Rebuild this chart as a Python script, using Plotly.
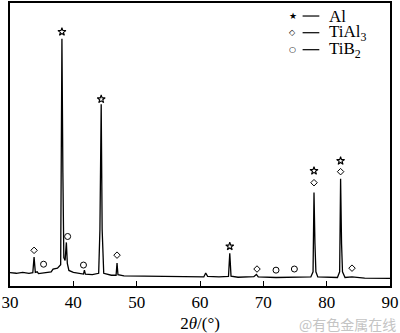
import plotly.graph_objects as go

# XRD profile (2theta in degrees, intensity in arbitrary units)
two_theta = [30.0, 31.0, 32.0, 33.0, 33.6, 33.8, 34.0, 34.3, 34.5, 35.5, 36.5, 36.8, 37.5, 38.0,
             38.1, 38.2, 38.35, 38.5, 38.7, 38.9, 39.05, 39.3, 40.0, 41.0, 41.6, 41.75, 41.9,
             43.0, 44.0, 44.2, 44.4, 44.55, 44.8, 46.0, 46.75, 46.9, 47.05, 48.0, 50.0, 55.0,
             58.0, 60.6, 60.9, 61.2, 63.0, 64.5, 64.7, 64.9, 66.0, 68.5, 68.9, 69.2, 72.0,
             75.0, 77.5, 77.85, 78.0, 78.15, 78.3, 78.6, 81.7, 82.05, 82.2, 82.35, 82.5, 82.9,
             84.0, 86.0, 90.0]
intensity = [4.7, 4.5, 4.8, 4.5, 4.7, 10.2, 4.8, 5.0, 4.4, 4.6, 5.0, 6.0, 6.3, 7.5,
             40.0, 87.4, 40.0, 10.0, 9.0, 15.4, 8.0, 5.5, 4.8, 4.3, 4.2, 5.6, 4.2,
             4.0, 4.5, 20.0, 64.2, 20.0, 4.5, 3.8, 3.8, 8.1, 4.0, 3.6, 3.5, 3.3,
             3.2, 3.2, 4.6, 3.4, 3.2, 3.4, 11.6, 3.5, 3.1, 3.3, 4.1, 3.2, 3.0,
             3.0, 3.2, 5.0, 33.0, 15.0, 5.0, 3.2, 3.0, 5.0, 37.9, 15.0, 5.0, 3.0,
             3.2, 2.8, 2.7]

# Phase markers
al_x = [38.2, 44.4, 64.7, 78.0, 82.2]
al_y = [89.8, 66.0, 14.0, 40.7, 44.2]
tial3_x = [33.8, 46.9, 69.0, 78.0, 82.2, 84.0]
tial3_y = [12.6, 10.9, 6.0, 36.5, 40.4, 6.3]
tib2_x = [35.3, 39.1, 41.6, 72.0, 74.9]
tib2_y = [7.7, 17.5, 7.4, 5.6, 6.0]

x_ticks = [30, 40, 50, 60, 70, 80, 90]

legend_names = ["Al", "TiAl<sub>3</sub>", "TiB<sub>2</sub>"]
legend_glyphs = ["★", "◇", "○"]
legend_glyph_sizes = [9, 8, 8]

serif = "Liberation Serif"

fig = go.Figure()
fig.add_trace(go.Scatter(x=two_theta, y=intensity, mode="lines",
                         line=dict(color="black", width=1.3), showlegend=False,
                         hoverinfo="skip"))
fig.add_trace(go.Scatter(x=al_x, y=al_y, mode="markers", showlegend=False,
                         marker=dict(symbol="star-open", size=6, color="black",
                                     line=dict(width=1.1, color="black"))))
fig.add_trace(go.Scatter(x=tial3_x, y=tial3_y, mode="markers", showlegend=False,
                         marker=dict(symbol="diamond-open", size=5, color="black",
                                     line=dict(width=1, color="black"))))
fig.add_trace(go.Scatter(x=tib2_x, y=tib2_y, mode="markers", showlegend=False,
                         marker=dict(symbol="circle-open", size=6, color="black",
                                     line=dict(width=1, color="black"))))

annotations = []
shapes = []
legend_rows = [0.954, 0.895, 0.835]
for glyph, gsize, name, yy in zip(legend_glyphs, legend_glyph_sizes, legend_names, legend_rows):
    annotations.append(dict(text=glyph, xref="paper", yref="paper", x=0.744, y=yy,
                            xanchor="center", yanchor="middle", showarrow=False,
                            font=dict(family="DejaVu Sans", size=gsize, color="black")))
    shapes.append(dict(type="line", xref="paper", yref="paper",
                       x0=0.770, x1=0.814, y0=yy, y1=yy,
                       line=dict(color="black", width=1.2)))
    annotations.append(dict(text=name, xref="paper", yref="paper", x=0.834, y=yy,
                            xanchor="left", yanchor="middle", showarrow=False,
                            font=dict(family=serif, size=17, color="black")))
annotations.append(dict(text="@有色金属在线", xref="paper", yref="paper",
                        x=1.02, y=-0.133, xanchor="right", yanchor="middle", showarrow=False,
                        font=dict(family="Noto Sans CJK SC", size=14, color="#c4c4c4")))

fig.update_layout(
    width=400, height=333,
    margin=dict(l=6, r=8, t=1, b=47),
    paper_bgcolor="white", plot_bgcolor="white",
    font=dict(family=serif, size=17, color="black"),
    showlegend=False,
    xaxis=dict(range=[30, 90], tickvals=x_ticks, ticktext=[str(v) for v in x_ticks],
               ticks="inside", ticklen=5, tickwidth=1, tickcolor="black",
               ticklabeloverflow="allow",
               tickfont=dict(family=serif, size=17, color="black"),
               showline=True, linecolor="black", linewidth=1.5, mirror=True,
               showgrid=False, zeroline=False,
               title=dict(text="2<i>θ</i>/(°)", standoff=7,
                          font=dict(family=serif, size=17, color="black"))),
    yaxis=dict(range=[0, 100], showticklabels=False, ticks="",
               showline=True, linecolor="black", linewidth=1.5, mirror=True,
               showgrid=False, zeroline=False),
    annotations=annotations,
    shapes=shapes,
)

fig.write_html("out.html")
